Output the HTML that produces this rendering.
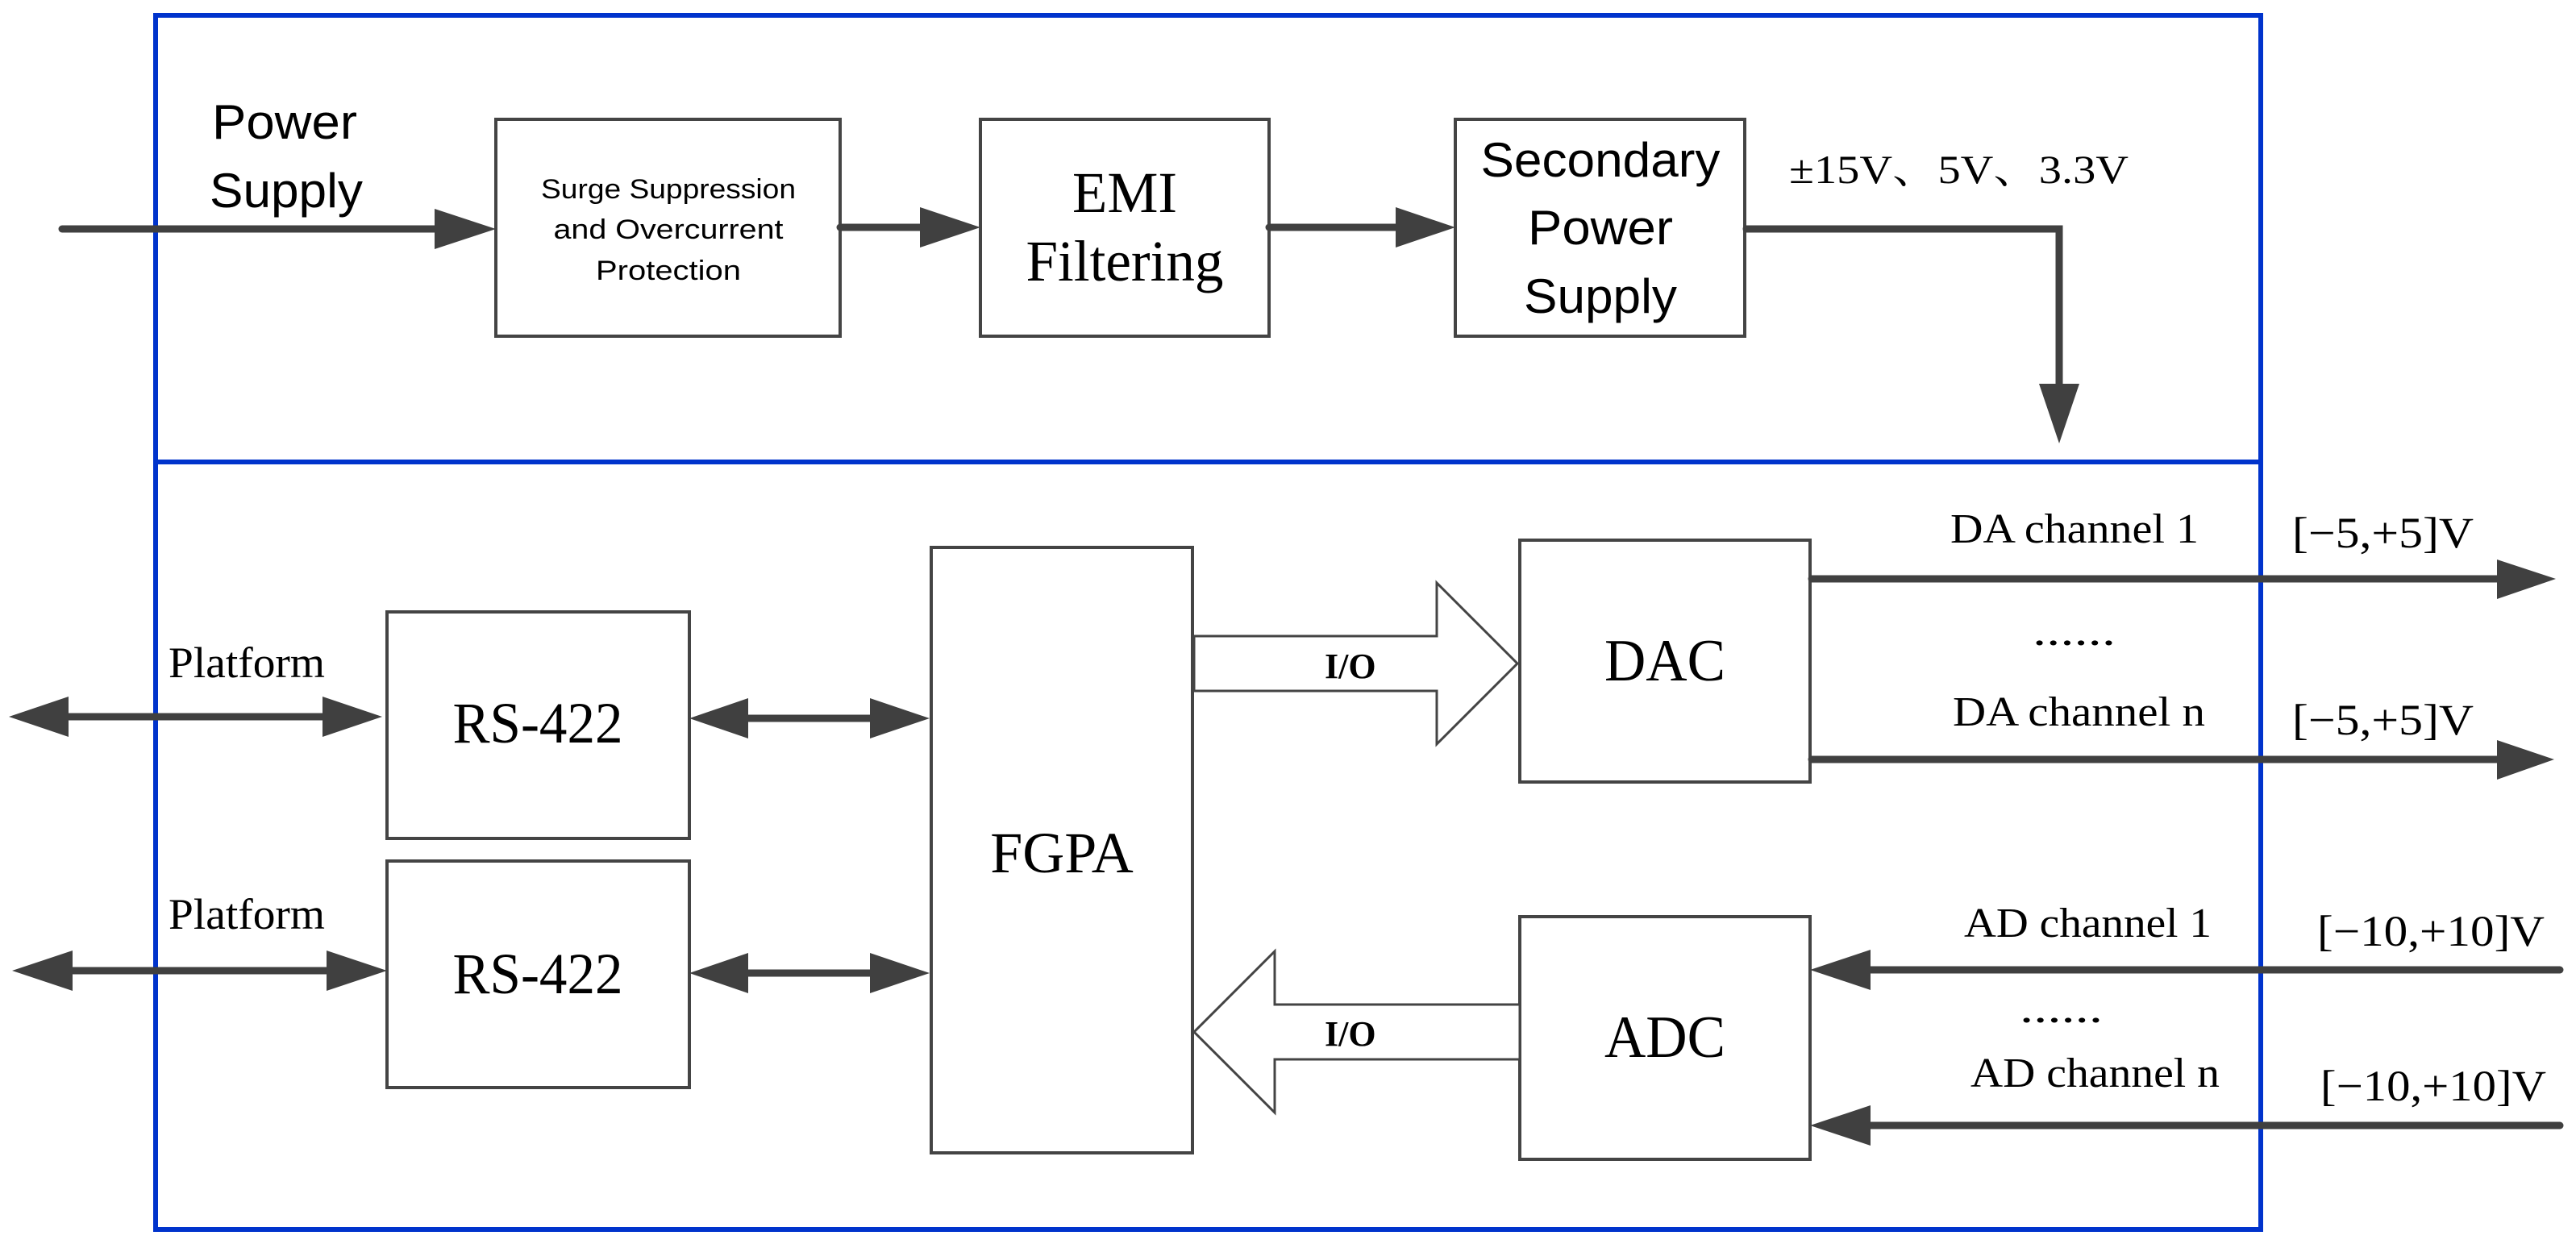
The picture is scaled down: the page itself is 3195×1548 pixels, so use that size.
<!DOCTYPE html>
<html><head><meta charset="utf-8"><style>html,body{margin:0;padding:0;background:#fff}svg{display:block}</style></head>
<body>
<svg xmlns="http://www.w3.org/2000/svg" width="3195" height="1548" viewBox="0 0 3195 1548">
<rect width="3195" height="1548" fill="#fff"/>
<!-- blue frames -->
<g stroke="#0033cc" stroke-width="6" fill="none">
<rect x="193" y="19" width="2611" height="1506"/>
<line x1="193" y1="573" x2="2804" y2="573"/>
</g>
<!-- boxes -->
<g stroke="#444" stroke-width="4" fill="none">
<rect x="615" y="148" width="427" height="269"/>
<rect x="1216" y="148" width="358" height="269"/>
<rect x="1805" y="148" width="359" height="269"/>
<rect x="480" y="759" width="375" height="281"/>
<rect x="480" y="1068" width="375" height="281"/>
<rect x="1155" y="679" width="324" height="751"/>
<rect x="1885" y="670" width="360" height="300"/>
<rect x="1885" y="1137" width="360" height="301"/>
</g>
<!-- connector lines -->
<g stroke="#404040" stroke-width="9" fill="none" stroke-linecap="round">
<line x1="77" y1="284" x2="545" y2="284"/>
<line x1="1042" y1="282" x2="1145" y2="282"/>
<line x1="1574" y1="282" x2="1735" y2="282"/>
<polyline points="2166,284 2554,284 2554,480" stroke-linejoin="miter"/>
<line x1="80" y1="889" x2="405" y2="889"/>
<line x1="85" y1="1204" x2="410" y2="1204"/>
<line x1="925" y1="891" x2="1082" y2="891"/>
<line x1="925" y1="1207" x2="1082" y2="1207"/>
<line x1="2247" y1="718" x2="3100" y2="718"/>
<line x1="2247" y1="942" x2="3100" y2="942"/>
<line x1="2315" y1="1203" x2="3175" y2="1203"/>
<line x1="2315" y1="1396" x2="3175" y2="1396"/>
</g>
<!-- arrowheads -->
<g fill="#404040">
<polygon points="539,259 615,284 539,309"/>
<polygon points="1141,257 1216,282 1141,307"/>
<polygon points="1731,257 1805,282 1731,307"/>
<polygon points="2529,476 2579,476 2554,550"/>
<polygon points="85,864 11,889 85,914"/>
<polygon points="400,864 474,889 400,914"/>
<polygon points="90,1179 15,1204 90,1229"/>
<polygon points="405,1179 480,1204 405,1229"/>
<polygon points="928,866 855,891 928,916"/>
<polygon points="1079,866 1153,891 1079,916"/>
<polygon points="928,1182 855,1207 928,1232"/>
<polygon points="1079,1182 1153,1207 1079,1232"/>
<polygon points="3097,694 3170,718 3097,743"/>
<polygon points="3097,918 3168,942 3097,967"/>
<polygon points="2320,1178 2245,1203 2320,1228"/>
<polygon points="2320,1371 2245,1396 2320,1421"/>
</g>
<!-- hollow I/O arrows -->
<g stroke="#444" stroke-width="3" fill="#fff">
<polygon points="1481,789 1782,789 1782,723 1882,823 1782,923 1782,857 1481,857"/>
<polygon points="1885,1246 1581,1246 1581,1180 1481,1280 1581,1380 1581,1314 1885,1314"/>
</g>
<!-- sans text -->
<g font-family="Liberation Sans, sans-serif" fill="#000">
<text x="263" y="172" font-size="60" textLength="180" lengthAdjust="spacingAndGlyphs">Power</text>
<text x="260" y="257" font-size="60" textLength="190" lengthAdjust="spacingAndGlyphs">Supply</text>
<g font-size="34" text-anchor="middle">
<text x="829" y="246" textLength="316" lengthAdjust="spacingAndGlyphs">Surge Suppression</text>
<text x="829" y="296" textLength="285" lengthAdjust="spacingAndGlyphs">and Overcurrent</text>
<text x="829" y="347" textLength="180" lengthAdjust="spacingAndGlyphs">Protection</text>
</g>
<g font-size="60" text-anchor="middle">
<text x="1985" y="219" textLength="297" lengthAdjust="spacingAndGlyphs">Secondary</text>
<text x="1985" y="303" textLength="180" lengthAdjust="spacingAndGlyphs">Power</text>
<text x="1985" y="388" textLength="190" lengthAdjust="spacingAndGlyphs">Supply</text>
</g>
</g>
<!-- serif text -->
<g font-family="Liberation Serif, Noto Serif CJK SC, serif" fill="#000">
<text x="1395" y="263" font-size="72" text-anchor="middle" textLength="130" lengthAdjust="spacingAndGlyphs">EMI</text>
<text x="1395" y="348" font-size="72" text-anchor="middle" textLength="245" lengthAdjust="spacingAndGlyphs">Filtering</text>
<text x="2219" y="227" font-size="50" textLength="421" lengthAdjust="spacingAndGlyphs">±15V、5V、3.3V</text>
<text x="209" y="840" font-size="54" textLength="194" lengthAdjust="spacingAndGlyphs">Platform</text>
<text x="209" y="1152" font-size="54" textLength="194" lengthAdjust="spacingAndGlyphs">Platform</text>
<text x="667" y="921" font-size="72" text-anchor="middle" textLength="211" lengthAdjust="spacingAndGlyphs">RS-422</text>
<text x="667" y="1232" font-size="72" text-anchor="middle" textLength="211" lengthAdjust="spacingAndGlyphs">RS-422</text>
<text x="1317" y="1082" font-size="72" text-anchor="middle">FGPA</text>
<text x="2065" y="844" font-size="74" text-anchor="middle" textLength="150" lengthAdjust="spacingAndGlyphs">DAC</text>
<text x="2065" y="1311" font-size="74" text-anchor="middle" textLength="150" lengthAdjust="spacingAndGlyphs">ADC</text>
<text x="1643" y="841" font-size="44" font-weight="bold">I/O</text>
<text x="1643" y="1297" font-size="44" font-weight="bold">I/O</text>
<text x="2419" y="673" font-size="52" textLength="308" lengthAdjust="spacingAndGlyphs">DA channel 1</text>
<text x="2521" y="800" font-size="52" textLength="103" lengthAdjust="spacingAndGlyphs">......</text>
<text x="2422" y="900" font-size="52" textLength="313" lengthAdjust="spacingAndGlyphs">DA channel n</text>
<text x="2843" y="679" font-size="54" textLength="225" lengthAdjust="spacingAndGlyphs">[−5,+5]V</text>
<text x="2843" y="911" font-size="54" textLength="225" lengthAdjust="spacingAndGlyphs">[−5,+5]V</text>
<text x="2436" y="1162" font-size="52" textLength="307" lengthAdjust="spacingAndGlyphs">AD channel 1</text>
<text x="2505" y="1268" font-size="52" textLength="103" lengthAdjust="spacingAndGlyphs">......</text>
<text x="2444" y="1348" font-size="52" textLength="309" lengthAdjust="spacingAndGlyphs">AD channel n</text>
<text x="2874" y="1173" font-size="54" textLength="282" lengthAdjust="spacingAndGlyphs">[−10,+10]V</text>
<text x="2878" y="1365" font-size="54" textLength="280" lengthAdjust="spacingAndGlyphs">[−10,+10]V</text>
</g>
</svg>
</body></html>
